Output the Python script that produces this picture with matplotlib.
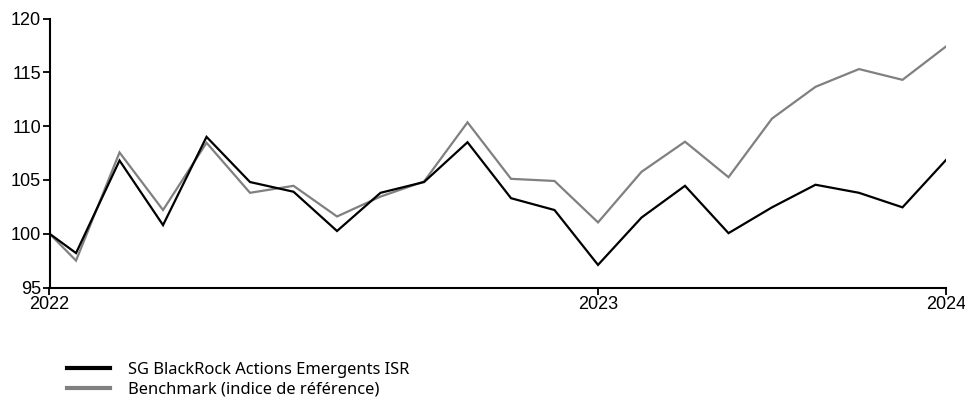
import matplotlib
matplotlib.use("Agg")
import matplotlib.pyplot as plt
from matplotlib.lines import Line2D

# Data
periods = [-0.61, 0, 1, 2, 3, 4, 5, 6, 7, 8, 9, 10, 11, 12, 13, 14, 15, 16, 17, 18, 19, 20]
fund = [100.0, 98.2, 106.8, 100.8, 109.0, 104.8, 103.9, 100.25, 103.8, 104.8, 108.5, 103.3,
        102.2, 97.1, 101.5, 104.45, 100.05, 102.45, 104.55, 103.8, 102.45, 106.85]
bench = [100.0, 97.5, 107.55, 102.2, 108.45, 103.8, 104.45, 101.6, 103.45, 104.85, 110.35, 105.1,
         104.9, 101.05, 105.75, 108.55, 105.25, 110.7, 113.65, 115.3, 114.3, 117.4]
tick_pos = [-0.61, 12, 20]
tick_labels = ["2022", "2023", "2024"]
series_names = ["SG BlackRock Actions Emergents ISR", "Benchmark (indice de référence)"]

W, H = 965, 398
fig = plt.figure(figsize=(W / 100, H / 100), dpi=100)
left, right, top, bottom = 49.5, 946, 18.5, 287.5
ax = fig.add_axes([left / W, 1 - bottom / H, (right - left) / W, (bottom - top) / H])

ax.plot(periods, bench, color="#808080", lw=1.6, solid_joinstyle="miter")
ax.plot(periods, fund, color="#000000", lw=1.6, solid_joinstyle="miter")

ax.set_xlim(-0.61, 20)
ax.set_ylim(95, 120)
ax.set_yticks([95, 100, 105, 110, 115, 120])
ax.set_xticks(tick_pos)
ax.set_xticklabels(tick_labels)
for s in ["top", "right"]:
    ax.spines[s].set_visible(False)
for s in ["left", "bottom"]:
    ax.spines[s].set_linewidth(1.5)
ax.tick_params(axis="both", direction="out", length=5, width=1.3, labelsize=13, pad=1)
for lab in ax.get_xticklabels() + ax.get_yticklabels():
    lab.set_fontfamily("Liberation Sans")

handles = [Line2D([], [], color="#000000", lw=3), Line2D([], [], color="#808080", lw=3)]
fig.legend(handles, series_names, loc="upper left", bbox_to_anchor=(67 / W, 1 - 362 / H),
           frameon=False, prop={"family": "Noto Sans", "size": 11.9},
           handlelength=2.6, handletextpad=1.08, labelspacing=0.22, borderaxespad=0,
           borderpad=0)

fig.savefig("out.png", dpi=100)
